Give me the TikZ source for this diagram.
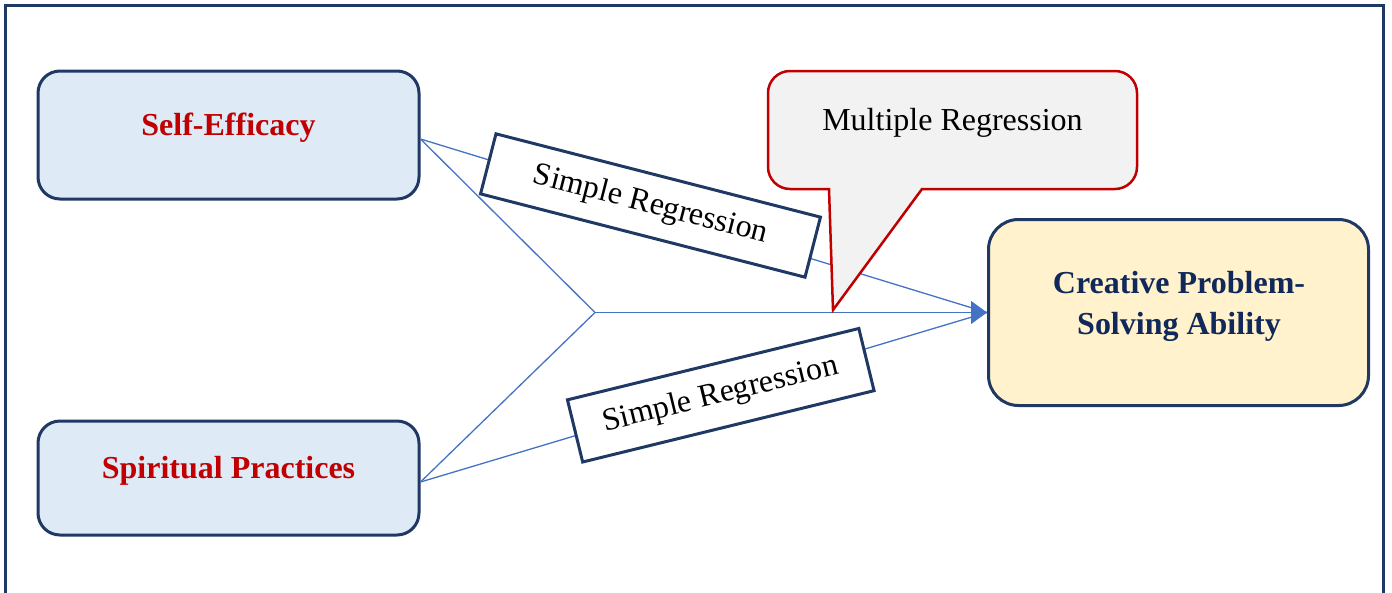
\documentclass[tikz,border=0pt]{standalone}
\usepackage{fontspec}
\setmainfont{Liberation Serif}
\usetikzlibrary{arrows.meta}

\definecolor{navy}{HTML}{1F3864}
\definecolor{navytext}{HTML}{10285A}
\definecolor{darkred}{HTML}{C00000}
\definecolor{linkblue}{HTML}{4472C4}
\definecolor{paleblue}{HTML}{DEEAF6}
\definecolor{paleyellow}{HTML}{FFF2CC}
\definecolor{palegray}{HTML}{F2F2F2}

\tikzset{
  big/.style={font=\fontsize{32}{41}\selectfont},
  midbase/.style={text height=20pt, text depth=20pt},
  varbox/.style={big, midbase, draw=navy, line width=3pt, fill=paleblue,
    rounded corners=22pt, minimum width=381pt, text=darkred,
    font=\fontsize{32}{41}\selectfont\bfseries},
  outbox/.style={draw=navy, line width=3pt, fill=paleyellow,
    rounded corners=30pt, minimum width=380pt, minimum height=186pt},
  outtext/.style={big, align=center, text=navytext,
    font=\fontsize{32}{41}\selectfont\bfseries},
  regbox/.style={big, draw=navy, line width=3pt, fill=white, inner sep=0pt},
  link/.style={linkblue, line width=1.3pt},
  callout/.style={draw=darkred, line width=2.5pt, fill=palegray, line join=miter},
}

\begin{document}
\begin{tikzpicture}[x=1pt, y=-1pt]
  \useasboundingbox (0,0) rectangle (1392,592);

  % outer frame, open at the bottom
  \draw[navy, line width=3pt] (5.5,600) -- (5.5,5.5) -- (1383.5,5.5) -- (1383.5,600);

  % variables
  \node[varbox, minimum height=128pt] (se) at (228.5,135) {Self-Efficacy};
  \node[varbox, minimum height=114pt] (sp) at (228.5,478) {Spiritual Practices};
  \node[outbox] (cp) at (1178.5,312.5) {};
  \node[outtext] (cptext) at (1179,306) {Creative Problem-\\Solving Ability};

  % connectors
  \coordinate (j) at (595,312.5);
  \coordinate (seout) at ([yshift=-4pt]se.east);
  \coordinate (spout) at ([yshift=-4pt]sp.east);
  \draw[link] (seout) -- (j);
  \draw[link] (spout) -- (j);
  \draw[link] (seout) -- (cp.west);
  \draw[link] (spout) -- (cp.west);
  \draw[link, -{Triangle[length=16pt, width=23pt]}] (j) -- (cp.west);

  % simple regression labels
  \node[regbox, rotate=-14.4, minimum width=335pt, minimum height=62pt] (sr1)
    at (650.5,205.5) {Simple Regression};
  \node[regbox, rotate=13.76, minimum width=300pt, minimum height=64pt] (sr2)
    at (720.75,395.25) {Simple Regression};

  % multiple regression callout
  \draw[callout] (833,310) -- (829,189) -- (790,189)
    arc[start angle=270, end angle=180, radius=22pt] -- (768,93)
    arc[start angle=180, end angle=90, radius=22pt] -- (1115,71)
    arc[start angle=90, end angle=0, radius=22pt] -- (1137,167)
    arc[start angle=0, end angle=-90, radius=22pt] -- (922,189) -- cycle;
  \node[big, midbase] (mr) at (952.5,130) {Multiple Regression};
\end{tikzpicture}
\end{document}
